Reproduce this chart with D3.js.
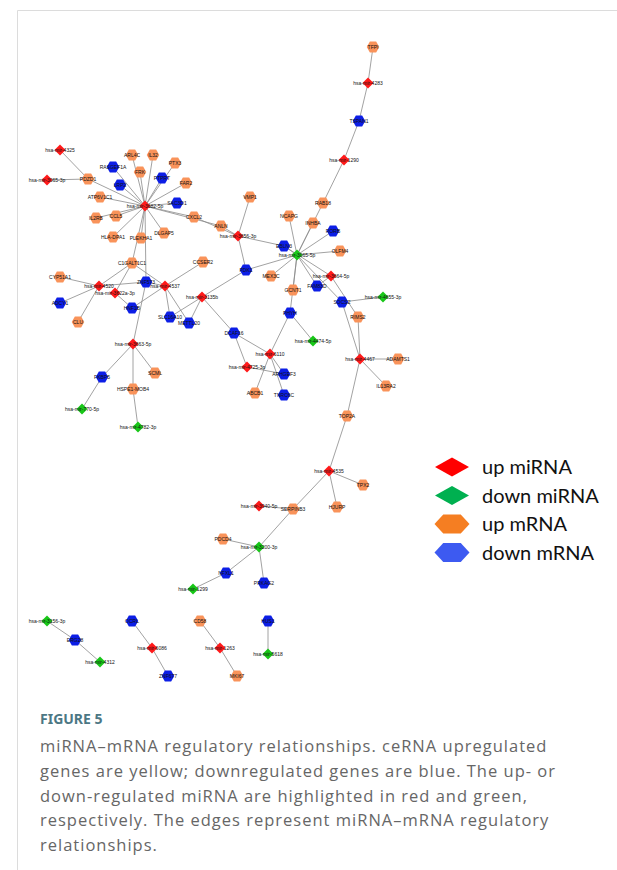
<!DOCTYPE html>
<html>
<head>
<meta charset="utf-8">
<script src="https://cdn.jsdelivr.net/npm/d3@7"></script>
<style>
  html, body { margin: 0; padding: 0; background: #fff; }
  svg { display: block; }
</style>
</head>
<body>
<div id="chart"></div>
<script>
// node groups
const upMiRNA = [
  "hsa-mir-4325", "hsa-mir-3065-3p", "hsa-mir-3682-5p", "hsa-mir-3656-3p",
  "hsa-mir-4283", "hsa-mir-1290", "hsa-mir-3664-5p", "hsa-mir-4520",
  "hsa-mir-3622a-3p", "hsa-mir-4537", "hsa-mir-3135b", "hsa-mir-3663-5p",
  "hsa-mir-6110", "hsa-mir-4725-3p", "hsa-mir-4467", "hsa-mir-4535",
  "hsa-mir-3940-5p", "hsa-mir-6086", "hsa-mir-1263"
];
const downMiRNA = [
  "hsa-mir-3065-5p", "hsa-mir-4655-3p", "hsa-mir-4474-5p", "hsa-mir-770-5p",
  "hsa-mir-4782-3p", "hsa-mir-3200-3p", "hsa-mir-1299", "hsa-mir-3156-3p",
  "hsa-mir-4312", "hsa-mir-5618"
];
const upMRNA = [
  "PDZD1", "ARL4C", "IL32", "FRK", "PTX3", "FAR2", "ATP6V1C1", "IL2RB", "CCL5",
  "HLA-DPA1", "PLEKHA1", "DLGAP5", "CXCL2", "ANLN", "VMP1", "CCSER2", "NCAPG",
  "RAB18", "INHBA", "OLFM4", "MEX3C", "GCNT1", "TFPI", "C1GALT1C1", "CYP51A1",
  "CLU", "RIMS2", "ADAMTS1", "IL13RA2", "ABCB1", "HSPE1-MOB4", "SCML", "TOP2A",
  "TPX2", "HJURP", "SERPINB3", "PDCD4", "CD58", "MKI67"
];
const downMRNA = [
  "RASGEF1A", "LRP2", "PTPRT", "SAC3D1", "EBLN3", "RORB", "PDK1", "FAM83D",
  "SOCS2", "TSPAN1", "ZNF573", "ADCY1", "HNF1B", "SLC16A10", "METTL20",
  "DCAF16", "PHYH", "ARHGEF3", "TNRC6C", "FKBP5", "NFXL1", "PRKAG2", "ERG28",
  "OCRL", "ZNF677", "HUS1"
];

// layout coordinates of the network (layout units)
const layout = {
  "hsa-mir-4325": [60, 150], "hsa-mir-3065-3p": [47, 180], "hsa-mir-3682-5p": [145, 206],
  "hsa-mir-3656-3p": [238, 236], "hsa-mir-4283": [368, 83], "hsa-mir-1290": [344, 160],
  "hsa-mir-3664-5p": [331, 276], "hsa-mir-4520": [99, 286], "hsa-mir-3622a-3p": [115, 293],
  "hsa-mir-4537": [165, 286], "hsa-mir-3135b": [202, 297], "hsa-mir-3663-5p": [133, 344],
  "hsa-mir-6110": [270, 354], "hsa-mir-4725-3p": [247, 367], "hsa-mir-4467": [360, 359],
  "hsa-mir-4535": [329, 471], "hsa-mir-3940-5p": [259, 506], "hsa-mir-6086": [152, 648],
  "hsa-mir-1263": [220, 648],
  "hsa-mir-3065-5p": [297, 255], "hsa-mir-4655-3p": [383, 297], "hsa-mir-4474-5p": [313, 341],
  "hsa-mir-770-5p": [82, 409], "hsa-mir-4782-3p": [138, 427], "hsa-mir-3200-3p": [259, 547],
  "hsa-mir-1299": [193, 589], "hsa-mir-3156-3p": [47, 621], "hsa-mir-4312": [100, 662],
  "hsa-mir-5618": [268, 654],
  "PDZD1": [88, 179], "ARL4C": [132, 155], "IL32": [153, 155], "FRK": [140, 172],
  "PTX3": [175, 163], "FAR2": [186, 183], "ATP6V1C1": [100, 197], "IL2RB": [96, 218],
  "CCL5": [116, 216], "HLA-DPA1": [113, 237], "PLEKHA1": [141, 238], "DLGAP5": [164, 233],
  "CXCL2": [194, 217], "ANLN": [221, 226], "VMP1": [250, 197], "CCSER2": [203, 262],
  "NCAPG": [289, 216], "RAB18": [323, 203], "INHBA": [313, 223], "OLFM4": [340, 251],
  "MEX3C": [271, 276], "GCNT1": [293, 290], "TFPI": [373, 47], "C1GALT1C1": [132, 263],
  "CYP51A1": [60, 277], "CLU": [78, 322], "RIMS2": [358, 317], "ADAMTS1": [398, 359],
  "IL13RA2": [386, 386], "ABCB1": [255, 393], "HSPE1-MOB4": [133, 389], "SCML": [155, 373],
  "TOP2A": [347, 416], "TPX2": [363, 485], "HJURP": [337, 507], "SERPINB3": [293, 509],
  "PDCD4": [223, 539], "CD58": [200, 621], "MKI67": [237, 676],
  "RASGEF1A": [113, 167], "LRP2": [120, 185], "PTPRT": [162, 178], "SAC3D1": [177, 203],
  "EBLN3": [284, 246], "RORB": [333, 231], "PDK1": [246, 270], "FAM83D": [317, 286],
  "SOCS2": [342, 302], "TSPAN1": [359, 121], "ZNF573": [146, 282], "ADCY1": [60, 303],
  "HNF1B": [132, 308], "SLC16A10": [170, 317], "METTL20": [189, 323], "DCAF16": [234, 333],
  "PHYH": [290, 313], "ARHGEF3": [284, 374], "TNRC6C": [284, 395], "FKBP5": [102, 377],
  "NFXL1": [226, 573], "PRKAG2": [264, 583], "ERG28": [75, 640], "OCRL": [132, 621],
  "ZNF677": [168, 676], "HUS1": [268, 621]
};

// miRNA -> target mRNAs
const targets = {
  "hsa-mir-4325": ["PDZD1"],
  "hsa-mir-3065-3p": ["PDZD1"],
  "hsa-mir-3682-5p": ["PDZD1", "RASGEF1A", "ARL4C", "IL32", "FRK", "PTX3", "LRP2", "PTPRT",
    "FAR2", "SAC3D1", "ATP6V1C1", "IL2RB", "CCL5", "HLA-DPA1", "PLEKHA1", "DLGAP5",
    "CXCL2", "ANLN", "C1GALT1C1", "ZNF573"],
  "hsa-mir-3656-3p": ["CXCL2", "ANLN", "VMP1", "EBLN3", "PDK1"],
  "hsa-mir-3065-5p": ["NCAPG", "INHBA", "RAB18", "RORB", "OLFM4", "EBLN3", "PDK1", "MEX3C",
    "GCNT1", "PHYH", "FAM83D", "SOCS2"],
  "hsa-mir-1290": ["RAB18", "TSPAN1"],
  "hsa-mir-4283": ["TSPAN1", "TFPI"],
  "hsa-mir-3664-5p": ["EBLN3", "FAM83D", "RIMS2"],
  "hsa-mir-4655-3p": ["SOCS2"],
  "hsa-mir-4474-5p": ["PHYH"],
  "hsa-mir-4467": ["SOCS2", "RIMS2", "ADAMTS1", "IL13RA2", "TOP2A"],
  "hsa-mir-4535": ["TOP2A", "TPX2", "HJURP", "SERPINB3"],
  "hsa-mir-3940-5p": ["SERPINB3"],
  "hsa-mir-3200-3p": ["SERPINB3", "PDCD4", "NFXL1", "PRKAG2"],
  "hsa-mir-1299": ["NFXL1"],
  "hsa-mir-4520": ["C1GALT1C1", "CYP51A1", "ADCY1", "CLU", "ZNF573"],
  "hsa-mir-3622a-3p": ["C1GALT1C1", "HNF1B"],
  "hsa-mir-4537": ["C1GALT1C1", "ZNF573", "HNF1B", "SLC16A10", "METTL20", "CCSER2"],
  "hsa-mir-3135b": ["SLC16A10", "METTL20", "PDK1", "DCAF16"],
  "hsa-mir-3663-5p": ["ZNF573", "FKBP5", "HSPE1-MOB4", "SCML"],
  "hsa-mir-770-5p": ["FKBP5"],
  "hsa-mir-4782-3p": ["HSPE1-MOB4"],
  "hsa-mir-6110": ["DCAF16", "PHYH", "ARHGEF3", "ABCB1", "TNRC6C"],
  "hsa-mir-4725-3p": ["DCAF16", "ARHGEF3"],
  "hsa-mir-3156-3p": ["ERG28"],
  "hsa-mir-4312": ["ERG28"],
  "hsa-mir-6086": ["OCRL", "ZNF677"],
  "hsa-mir-1263": ["CD58", "MKI67"],
  "hsa-mir-5618": ["HUS1"]
};

const legendLabels = ["up miRNA", "down miRNA", "up mRNA", "down mRNA"];
const captionTitle = "FIGURE 5";
const captionLines = [
  "miRNA\u2013mRNA regulatory relationships. ceRNA upregulated",
  "genes are yellow; downregulated genes are blue. The up- or",
  "down-regulated miRNA are highlighted in red and green,",
  "respectively. The edges represent miRNA\u2013mRNA regulatory",
  "relationships."
];

const width = 617;
const height = 870;

const nodeColor = { upMi: "#ff1a1a", downMi: "#18c718", upM: "#f9935a", downM: "#0c1ee6" };
const legendColor = ["#ff0000", "#00b050", "#f57e22", "#3d5af1"];

const nodes = [
  ...upMiRNA.map((id) => ({ id, type: "upMi" })),
  ...downMiRNA.map((id) => ({ id, type: "downMi" })),
  ...upMRNA.map((id) => ({ id, type: "upM" })),
  ...downMRNA.map((id) => ({ id, type: "downM" }))
].map((d) => ({ ...d, lx: layout[d.id][0], ly: layout[d.id][1] }));

const nodeById = new Map(nodes.map((d) => [d.id, d]));
const links = Object.entries(targets).flatMap(([mi, genes]) =>
  genes.map((g) => ({ source: nodeById.get(mi), target: nodeById.get(g) }))
);

const xScale = d3.scaleLinear(d3.extent(nodes, (d) => d.lx), [47, 398]);
const yScale = d3.scaleLinear(d3.extent(nodes, (d) => d.ly), [47, 676]);

const svg = d3.select("#chart")
  .append("svg")
  .attr("width", width)
  .attr("height", height);

// card frame
svg.append("path")
  .attr("d", `M${width},10.5 H17.5 V${height}`)
  .attr("fill", "none")
  .attr("stroke", "#dcdcdc")
  .attr("stroke-width", 1);

function hexPath(w, h) {
  const a = w / 2, b = h / 2, c = w / 4;
  return `M${-a},0 L${-c},${-b} L${c},${-b} L${a},0 L${c},${b} L${-c},${b} Z`;
}
function diamondPath(w, h) {
  return `M${-w / 2},0 L0,${-h / 2} L${w / 2},0 L0,${h / 2} Z`;
}

const net = svg.append("g").attr("class", "network");

net.append("g")
  .attr("class", "edges")
  .selectAll("line")
  .data(links)
  .join("line")
  .attr("x1", (d) => xScale(d.source.lx))
  .attr("y1", (d) => yScale(d.source.ly))
  .attr("x2", (d) => xScale(d.target.lx))
  .attr("y2", (d) => yScale(d.target.ly))
  .attr("stroke", "#8a8a8a")
  .attr("stroke-width", 0.8);

const node = net.append("g")
  .attr("class", "nodes")
  .selectAll("g")
  .data(nodes)
  .join("g")
  .attr("transform", (d) => `translate(${xScale(d.lx)},${yScale(d.ly)})`);

node.append("path")
  .attr("d", (d) => (d.type === "upMi" || d.type === "downMi")
    ? diamondPath(11, 11)
    : hexPath(12.5, 11))
  .attr("fill", (d) => nodeColor[d.type]);

node.append("text")
  .text((d) => d.id)
  .attr("text-anchor", "middle")
  .attr("dy", "0.35em")
  .attr("font-family", "Liberation Sans, Arial, sans-serif")
  .attr("font-size", 5)
  .attr("fill", "#111");

// legend
const legend = svg.append("g")
  .attr("class", "legend")
  .selectAll("g")
  .data(legendLabels)
  .join("g")
  .attr("transform", (d, i) => `translate(452, ${467 + i * 28.5})`);

legend.append("path")
  .attr("d", (d, i) => i < 2 ? diamondPath(34, 19) : hexPath(35, 19))
  .attr("fill", (d, i) => legendColor[i]);

legend.append("text")
  .text((d) => d)
  .attr("x", 30)
  .attr("dy", "0.35em")
  .attr("font-family", "Lato, 'Open Sans', sans-serif")
  .attr("font-size", 20)
  .attr("fill", "#111");

// caption
svg.append("text")
  .text(captionTitle)
  .attr("x", 40)
  .attr("y", 724)
  .attr("font-family", "'Noto Sans', 'Open Sans', sans-serif")
  .attr("font-weight", "bold")
  .attr("font-size", 14)
  .attr("fill", "#4c7784");

svg.append("g")
  .attr("class", "caption")
  .selectAll("text")
  .data(captionLines)
  .join("text")
  .text((d) => d)
  .attr("x", 40)
  .attr("y", (d, i) => 752 + i * 24.8)
  .attr("font-family", "'Open Sans', 'Noto Sans', sans-serif")
  .attr("font-size", 16.5)
  .attr("letter-spacing", 1.0)
  .attr("fill", "#666");
</script>
</body>
</html>
